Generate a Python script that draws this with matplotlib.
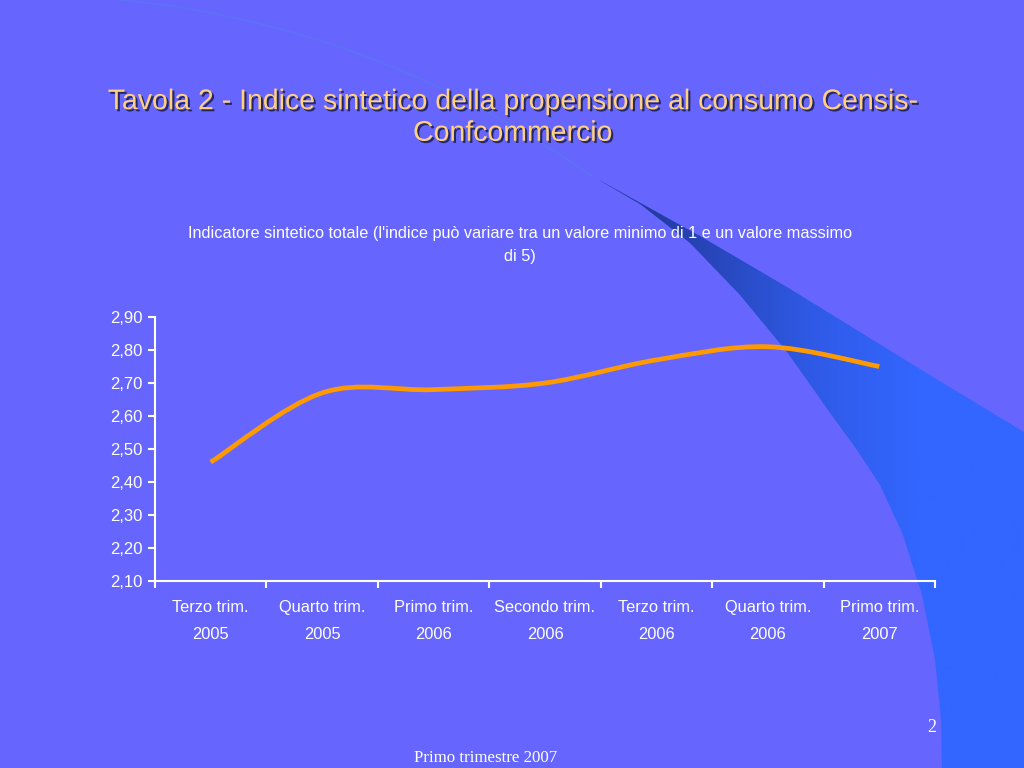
import numpy as np
import matplotlib
matplotlib.use("Agg")
import matplotlib.pyplot as plt
from matplotlib.path import Path
from matplotlib.patches import PathPatch, Polygon
import matplotlib.patheffects as pe

# data
categories = ["Terzo trim.\n2005", "Quarto trim.\n2005", "Primo trim.\n2006",
              "Secondo trim.\n2006", "Terzo trim.\n2006", "Quarto trim.\n2006",
              "Primo trim.\n2007"]
values = [2.46, 2.67, 2.68, 2.70, 2.77, 2.81, 2.75]
y_ticks = [2.10, 2.20, 2.30, 2.40, 2.50, 2.60, 2.70, 2.80, 2.90]

title = "Tavola 2 - Indice sintetico della propensione al consumo Censis-\nConfcommercio"
subtitle = ("Indicatore sintetico totale (l'indice può variare tra un valore minimo di 1 e un valore massimo\n"
            "di 5)")

bg = "#6666FF"
plt.rcParams["font.family"] = ["Liberation Sans", "DejaVu Sans"]

fig = plt.figure(figsize=(10.24, 7.68), dpi=100, facecolor=bg)

# background decoration (slide template)
deco = fig.add_axes([0, 0, 1, 1], zorder=0)
deco.set_xlim(0, 1024)
deco.set_ylim(768, 0)
deco.axis("off")
deco.set_facecolor(bg)

upper = [(592, 176), (700, 236), (787, 287), (860, 332), (933, 377), (1024, 432)]
lower = [(942, 768), (941, 720), (935, 660), (922, 595), (903, 535), (880, 485),
         (857, 450), (833, 417), (787, 352), (740, 295), (690, 243), (640, 204)]
wedge = upper + [(1024, 768)] + lower
poly = Polygon(wedge, closed=True, facecolor="none", edgecolor="none")
deco.add_patch(poly)
grad = np.linspace(0, 1, 256).reshape(1, -1)
cmap = matplotlib.colors.LinearSegmentedColormap.from_list(
    "wedge", ["#1E3490", "#2745B8", "#2F5AE6", "#3366FF", "#3366FF"])
img = deco.imshow(grad, extent=(600, 1024, 768, 170), cmap=cmap, aspect="auto", zorder=1)
img.set_clip_path(poly)

thin = Path([(120, 0), (330, 20), (480, 100), (592, 176)],
            [Path.MOVETO, Path.CURVE4, Path.CURVE4, Path.CURVE4])
deco.add_patch(PathPatch(thin, facecolor="none", edgecolor="#5A74F4", lw=1.0, zorder=2))

# chart
ax = fig.add_axes([155 / 1024, 1 - 581 / 768, 780 / 1024, 264 / 768], zorder=2)
ax.patch.set_alpha(0)
x = np.arange(len(values))
y = np.array(values, dtype=float)

# smoothed line (Catmull-Rom as Bezier segments)
verts = [(x[0], y[0])]
codes = [Path.MOVETO]
n = len(x)
for i in range(n - 1):
    p0 = (x[max(i - 1, 0)], y[max(i - 1, 0)])
    p1 = (x[i], y[i])
    p2 = (x[i + 1], y[i + 1])
    p3 = (x[min(i + 2, n - 1)], y[min(i + 2, n - 1)])
    c1 = (p1[0] + (p2[0] - p0[0]) / 6, p1[1] + (p2[1] - p0[1]) / 6)
    c2 = (p2[0] - (p3[0] - p1[0]) / 6, p2[1] - (p3[1] - p1[1]) / 6)
    verts += [c1, c2, p2]
    codes += [Path.CURVE4] * 3
ax.add_patch(PathPatch(Path(verts, codes), facecolor="none", edgecolor="#FF9900",
                       lw=3.4, capstyle="butt", zorder=3))

ax.set_xlim(-0.5, len(values) - 0.5)
ax.set_ylim(2.10, 2.90)
ax.set_yticks(y_ticks)
ax.set_yticklabels([f"{v:.2f}".replace(".", ",") for v in y_ticks])
ax.set_xticks(x)
ax.set_xticklabels(categories, linespacing=2.0)
ax.set_xticks(np.arange(-0.5, len(values)), minor=True)

for side in ["top", "right"]:
    ax.spines[side].set_visible(False)
for side in ["left", "bottom"]:
    ax.spines[side].set_color("white")
    ax.spines[side].set_linewidth(1.5)

ax.tick_params(axis="x", which="major", length=0, pad=14, labelsize=11.8, labelcolor="white")
ax.tick_params(axis="x", which="minor", length=5, width=1.5, color="white", direction="out")
ax.tick_params(axis="y", length=5, width=1.5, color="white", pad=4, labelsize=12,
               labelcolor="white")

# texts
fig.text(513 / 1024, 1 - 118 / 768, title, ha="center", va="center", fontsize=20.5,
         color="#FFD080", linespacing=1.28,
         path_effects=[pe.withSimplePatchShadow(offset=(1.5, -1.5), shadow_rgbFace="#202050",
                                                alpha=0.9)])
fig.text(520 / 1024, 1 - 245 / 768, subtitle, ha="center", va="center", fontsize=11.7,
         color="white", linespacing=1.7)
fig.text(486 / 1024, 1 - 758 / 768, "Primo trimestre 2007", ha="center", va="center",
         fontsize=12.2, color="white", family=["Liberation Serif", "DejaVu Serif"])
fig.text(932 / 1024, 1 - 728 / 768, "2", ha="center", va="center",
         fontsize=13, color="white", family=["Liberation Serif", "DejaVu Serif"])

fig.savefig("out.png", dpi=100, facecolor=bg)
